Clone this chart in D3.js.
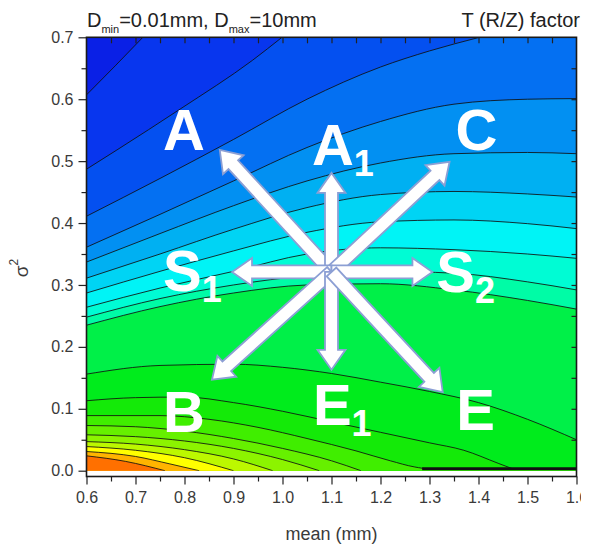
<!DOCTYPE html>
<html>
<head>
<meta charset="utf-8">
<script src="https://cdn.jsdelivr.net/npm/d3@7"></script>
<style>
  html, body { margin: 0; padding: 0; background: #fff; }
  svg { display: block; }
  text { font-family: "Liberation Sans", Arial, sans-serif; }
</style>
</head>
<body>
<svg id="chart" width="581" height="548"></svg>
<script>
// Isolines of the T (R/Z) factor over (mean, sigma^2), listed from the top-left corner downward.
const isoline01 = [[0.6,0.607],[0.66,0.655],[0.715,0.7]];
const isoline02 = [[0.6,0.487],[0.662,0.518],[0.791,0.584],[0.939,0.663],[0.999,0.7]];
const isoline03 = [[0.6,0.411],[0.75,0.472],[0.9,0.535],[1.05,0.600],[1.2,0.652],[1.3,0.678],[1.402,0.7]];
const isoline04 = [[0.6,0.361],[0.75,0.414],[0.9,0.468],[1.05,0.522],[1.2,0.564],[1.35,0.592],[1.5,0.600],[1.6,0.601]];
const isoline05 = [[0.6,0.337],[0.75,0.383],[0.9,0.428],[1.05,0.468],[1.2,0.497],[1.35,0.512],[1.5,0.514],[1.6,0.512]];
const isoline06 = [[0.6,0.311],[0.75,0.350],[0.9,0.390],[1.05,0.425],[1.2,0.446],[1.35,0.451],[1.5,0.447],[1.6,0.442]];
const isoline07 = [[0.6,0.287],[0.75,0.322],[0.9,0.355],[1.05,0.385],[1.2,0.402],[1.35,0.405],[1.5,0.399],[1.6,0.391]];
const isoline08 = [[0.6,0.264],[0.75,0.295],[0.9,0.322],[1.05,0.350],[1.2,0.360],[1.35,0.357],[1.5,0.350],[1.6,0.343]];
const isoline09 = [[0.6,0.248],[0.75,0.278],[0.9,0.300],[1.05,0.315],[1.2,0.322],[1.35,0.319],[1.5,0.305],[1.6,0.292]];
const isoline10 = [[0.6,0.235],[0.75,0.265],[0.9,0.287],[1.05,0.300],[1.2,0.302],[1.35,0.292],[1.5,0.275],[1.6,0.261]];
const isoline11 = [[0.6,0.156],[0.75,0.170],[0.9,0.172],[1.0,0.167],[1.1,0.157],[1.2,0.143],[1.3,0.128],[1.4,0.110],[1.5,0.083],[1.6,0.05]];
const isoline12 = [[0.6,0.113],[0.7,0.118],[0.8,0.119],[0.9,0.110],[1.0,0.096],[1.1,0.079],[1.2,0.062],[1.3,0.045],[1.37,0.033],[1.44,0.012],[1.47,0.003]];
const isoline13 = [[0.6,0.089],[0.75,0.089],[0.85,0.083],[0.95,0.070],[1.05,0.052],[1.15,0.032],[1.22,0.016],[1.27,0.006],[1.3,0.003],[1.6,0.003]];
const isoline14 = [[0.6,0.073],[0.7,0.071],[0.8,0.064],[0.9,0.052],[1.0,0.036],[1.1,0.016],[1.16,0.0]];
const isoline15 = [[0.6,0.058],[0.7,0.055],[0.8,0.048],[0.9,0.036],[1.0,0.018],[1.075,0.0]];
const isoline16 = [[0.6,0.047],[0.7,0.043],[0.8,0.034],[0.9,0.019],[0.98,0.0]];
const isoline17 = [[0.6,0.039],[0.7,0.033],[0.8,0.021],[0.9,0.0]];
const isoline18 = [[0.6,0.031],[0.7,0.023],[0.77,0.011],[0.83,0.0]];
const isoline19 = [[0.6,0.024],[0.68,0.015],[0.76,0.0]];

// Heavy segment where the lowest isolines pile up along sigma^2 ~ 0
const floorLine = [[1.285,0.003],[1.6,0.003]];

// Band colours: first entry lies above isoline01, entry k lies below isoline k
const bandColors = ["#0a20e6","#0836ee","#0450f0","#0470f2","#0290f2","#00b0f2","#00d4f4","#00f4f6",
                    "#00fcd4","#00fca6","#00f048","#00ec1c","#14ea08","#40ee00","#66f000","#8cf400",
                    "#bcf800","#ffff00","#ffb400","#ff7000"];

const xTickValues = [0.6,0.7,0.8,0.9,1.0,1.1,1.2,1.3,1.4,1.5,1.6];
const xMinorValues = [0.65,0.75,0.85,0.95,1.05,1.15,1.25,1.35,1.45,1.55];
const yTickValues = [0.0,0.1,0.2,0.3,0.4,0.5,0.6,0.7];
const yMinorValues = [0.05,0.15,0.25,0.35,0.45,0.55,0.65];

// Direction arrows: common origin and tips, with their letters
const arrowOrigin = [1.1, 0.321];
const arrowTips = [
  {name:"A",  tip:[0.872,0.518]},
  {name:"A1", tip:[1.1,0.481]},
  {name:"C",  tip:[1.341,0.499]},
  {name:"S1", tip:[0.897,0.321]},
  {name:"S2", tip:[1.306,0.321]},
  {name:"B",  tip:[0.856,0.147]},
  {name:"E1", tip:[1.1,0.163]},
  {name:"E",  tip:[1.327,0.127]}
];
const letterMain = ["A","A","C","S","S","B","E","E"];
const letterSub  = ["","1","","1","2","","1",""];
const letterPos  = [[0.799,0.518],[1.06,0.494],[1.396,0.518],[0.756,0.29],[1.314,0.288],[0.799,0.062],[1.062,0.074],[1.394,0.066]];
const letterAnchor = ["middle","start","middle","start","start","middle","start","middle"];

const isolines = [isoline01,isoline02,isoline03,isoline04,isoline05,isoline06,isoline07,isoline08,isoline09,isoline10,
                  isoline11,isoline12,isoline13,isoline14,isoline15,isoline16,isoline17,isoline18,isoline19];

const svg = d3.select("#chart");
const x = d3.scaleLinear().domain([0.6, 1.6]).range([86.5, 576.5]);
const y = d3.scaleLinear().domain([0, 0.7]).range([470.7, 37.3]);
const frameBottom = 476.5;

svg.append("defs").append("clipPath").attr("id", "plotClip")
  .append("rect")
  .attr("x", x(0.6)).attr("y", y(0.7))
  .attr("width", x(1.6) - x(0.6)).attr("height", y(0) - y(0.7));

const field = svg.append("g").attr("clip-path", "url(#plotClip)");

field.append("rect")
  .attr("x", x(0.6)).attr("y", y(0.7))
  .attr("width", x(1.6) - x(0.6)).attr("height", y(0) - y(0.7))
  .attr("fill", bandColors[0]);

const curve = d3.line().x(d => x(d[0])).y(d => y(d[1])).curve(d3.curveMonotoneX);

// filled bands: each isoline paints everything below it
isolines.forEach((pts, i) => {
  const last = pts[pts.length - 1];
  let d = curve(pts);
  if (last[1] >= 0.7) d += `L${x(1.6) + 3},${y(0.7) - 3}`;
  d += `L${x(1.6) + 3},${y(0) + 3}L${x(0.6) - 3},${y(0) + 3}Z`;
  field.append("path").attr("d", d).attr("fill", bandColors[i + 1]).attr("stroke", "none");
});

// isoline strokes
field.selectAll("path.iso").data(isolines).join("path")
  .attr("class", "iso")
  .attr("d", curve)
  .attr("fill", "none")
  .attr("stroke", "#111")
  .attr("stroke-opacity", 0.85)
  .attr("stroke-width", 1);

field.append("path")
  .attr("d", d3.line().x(d => x(d[0])).y(d => y(d[1]))(floorLine))
  .attr("fill", "none").attr("stroke", "#111").attr("stroke-width", 3);

// arrows
const arrowLayer = svg.append("g");
const shaftHalf = 6.5, headHalf = 14, headLen = 20;
const ox = x(arrowOrigin[0]), oy = y(arrowOrigin[1]);
arrowTips.forEach(a => {
  const tx = x(a.tip[0]), ty = y(a.tip[1]);
  const len = Math.hypot(tx - ox, ty - oy);
  const ux = (tx - ox) / len, uy = (ty - oy) / len;
  const nx = -uy, ny = ux;
  const bx = tx - ux * headLen, by = ty - uy * headLen;
  const p = [
    [ox + nx * shaftHalf, oy + ny * shaftHalf],
    [bx + nx * shaftHalf, by + ny * shaftHalf],
    [bx + nx * headHalf, by + ny * headHalf],
    [tx, ty],
    [bx - nx * headHalf, by - ny * headHalf],
    [bx - nx * shaftHalf, by - ny * shaftHalf],
    [ox - nx * shaftHalf, oy - ny * shaftHalf]
  ];
  arrowLayer.append("polygon")
    .attr("points", p.map(q => q.join(",")).join(" "))
    .attr("fill", "#fff")
    .attr("stroke", "#8c9fd4")
    .attr("stroke-width", 1.8)
    .attr("stroke-linejoin", "miter");
});

// direction letters
const letters = svg.append("g").attr("fill", "#fff").attr("font-weight", "bold");
letterMain.forEach((m, i) => {
  const t = letters.append("text")
    .attr("x", x(letterPos[i][0])).attr("y", y(letterPos[i][1]))
    .attr("text-anchor", letterAnchor[i])
    .attr("font-size", 58);
  t.append("tspan").text(m);
  if (letterSub[i]) t.append("tspan").attr("font-size", 36).attr("dy", 11).text(letterSub[i]);
});

// axes
function styleAxis(g) {
  g.select(".domain").remove();
  g.selectAll(".tick line").attr("stroke", "#222").attr("stroke-width", 1.2);
  g.selectAll(".tick text").attr("fill", "#3a3a3a").attr("font-size", 16)
    .attr("font-family", "'Liberation Sans', Arial, sans-serif");
}

svg.append("g").attr("transform", `translate(0,${frameBottom})`)
  .call(d3.axisBottom(x).tickValues(xTickValues).tickSize(8).tickSizeOuter(0).tickPadding(7).tickFormat(d3.format(".1f")))
  .call(styleAxis);
svg.append("g").attr("transform", `translate(0,${frameBottom})`)
  .call(d3.axisBottom(x).tickValues(xMinorValues).tickSize(5).tickSizeOuter(0).tickFormat(""))
  .call(styleAxis);
svg.append("g").attr("transform", `translate(${x(0.6)},0)`)
  .call(d3.axisLeft(y).tickValues(yTickValues).tickSize(8).tickSizeOuter(0).tickPadding(5).tickFormat(d3.format(".1f")))
  .call(styleAxis);
svg.append("g").attr("transform", `translate(${x(0.6)},0)`)
  .call(d3.axisLeft(y).tickValues(yMinorValues).tickSize(5).tickSizeOuter(0).tickFormat(""))
  .call(styleAxis);
svg.append("g").attr("transform", `translate(0,${y(0.7)})`)
  .call(d3.axisBottom(x).tickValues(xMinorValues.concat(xTickValues.slice(1, -1))).tickSize(6).tickSizeOuter(0).tickFormat(""))
  .call(styleAxis);
svg.append("g").attr("transform", `translate(${x(1.6)},0)`)
  .call(d3.axisLeft(y).tickValues(yMinorValues.concat(yTickValues.slice(1, -1))).tickSize(5).tickSizeOuter(0).tickFormat(""))
  .call(styleAxis);

// frame
svg.append("rect")
  .attr("x", x(0.6)).attr("y", y(0.7))
  .attr("width", x(1.6) - x(0.6)).attr("height", frameBottom - y(0.7))
  .attr("fill", "none").attr("stroke", "#1a1a1a").attr("stroke-width", 1.6);

// axis titles
svg.append("text")
  .attr("x", (x(0.6) + x(1.6)) / 2).attr("y", 540)
  .attr("text-anchor", "middle").attr("font-size", 18).attr("fill", "#3a3a3a")
  .text("mean (mm)");

const yTitle = svg.append("text")
  .attr("transform", "translate(28,268) rotate(-90)")
  .attr("text-anchor", "middle").attr("font-size", 19).attr("fill", "#3a3a3a");
yTitle.append("tspan").text("σ");
yTitle.append("tspan").attr("font-size", 12).attr("dy", -10).text("2");

// header texts
const head = svg.append("text").attr("x", 87).attr("y", 27).attr("font-size", 20).attr("fill", "#222");
head.append("tspan").text("D");
head.append("tspan").attr("font-size", 11).attr("dy", 6).text("min");
head.append("tspan").attr("dy", -6).text("=0.01mm, D");
head.append("tspan").attr("font-size", 11).attr("dy", 6).text("max");
head.append("tspan").attr("dy", -6).text("=10mm");

svg.append("text").attr("x", 580).attr("y", 27).attr("text-anchor", "end")
  .attr("font-size", 20).attr("fill", "#222").text("T (R/Z) factor");
</script>
</body>
</html>
